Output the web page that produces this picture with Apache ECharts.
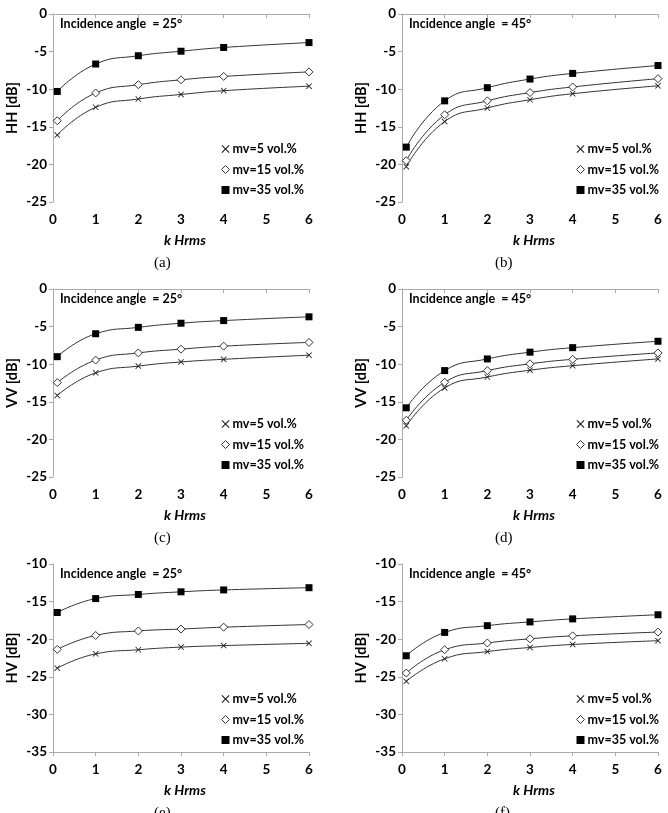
<!DOCTYPE html>
<html>
<head>
<meta charset="utf-8">
<script src="https://cdn.jsdelivr.net/npm/echarts@6/dist/echarts.min.js"></script>
<style>
  html, body { margin: 0; padding: 0; background: #fff; }
  #main { width: 668px; height: 813px; }
</style>
</head>
<body>
<div id="main"></div>
<script>
// k Hrms sample positions
var kHrms = [0.1, 1, 2, 3, 4, 6];
var seriesNames = ["mv=5 vol.%", "mv=15 vol.%", "mv=35 vol.%"];

// (a) HH, 25 deg
var hh25_mv5 = [-16.1, -12.4, -11.3, -10.7, -10.2, -9.6];
var hh25_mv15 = [-14.2, -10.5, -9.4, -8.75, -8.3, -7.7];
var hh25_mv35 = [-10.3, -6.65, -5.55, -4.95, -4.45, -3.8];
// (b) HH, 45 deg
var hh45_mv5 = [-20.3, -14.3, -12.5, -11.4, -10.6, -9.55];
var hh45_mv15 = [-19.5, -13.4, -11.55, -10.45, -9.7, -8.6];
var hh45_mv35 = [-17.7, -11.55, -9.8, -8.65, -7.9, -6.85];
// (c) VV, 25 deg
var vv25_mv5 = [-14.15, -11.15, -10.25, -9.7, -9.35, -8.8];
var vv25_mv15 = [-12.45, -9.45, -8.5, -8.0, -7.6, -7.1];
var vv25_mv35 = [-9.0, -5.95, -5.1, -4.55, -4.2, -3.7];
// (d) VV, 45 deg
var vv45_mv5 = [-18.2, -13.15, -11.7, -10.8, -10.2, -9.3];
var vv45_mv15 = [-17.45, -12.4, -10.85, -9.95, -9.35, -8.5];
var vv45_mv35 = [-15.8, -10.85, -9.3, -8.4, -7.8, -6.95];
// (e) HV, 25 deg
var hv25_mv5 = [-23.85, -21.95, -21.4, -21.05, -20.85, -20.55];
var hv25_mv15 = [-21.35, -19.5, -18.9, -18.65, -18.4, -18.05];
var hv25_mv35 = [-16.45, -14.6, -14.05, -13.7, -13.45, -13.15];
// (f) HV, 45 deg
var hv45_mv5 = [-25.6, -22.6, -21.65, -21.1, -20.7, -20.2];
var hv45_mv15 = [-24.5, -21.4, -20.5, -19.95, -19.55, -19.05];
var hv45_mv35 = [-22.2, -19.1, -18.2, -17.7, -17.3, -16.75];

var xTicks = [0, 6, 1];
var yRangeCo = [-25, 0];
var yRangeHV = [-35, -10];

var panels = [
  { left: 53, top: 14, yName: "HH [dB]", range: yRangeCo, angle: "25", cap: "(a)", data: [hh25_mv5, hh25_mv15, hh25_mv35] },
  { left: 402, top: 14, yName: "HH [dB]", range: yRangeCo, angle: "45", cap: "(b)", data: [hh45_mv5, hh45_mv15, hh45_mv35] },
  { left: 53, top: 289, yName: "VV [dB]", range: yRangeCo, angle: "25", cap: "(c)", data: [vv25_mv5, vv25_mv15, vv25_mv35] },
  { left: 402, top: 289, yName: "VV [dB]", range: yRangeCo, angle: "45", cap: "(d)", data: [vv45_mv5, vv45_mv15, vv45_mv35] },
  { left: 53, top: 564, yName: "HV [dB]", range: yRangeHV, angle: "25", cap: "(e)", data: [hv25_mv5, hv25_mv15, hv25_mv35] },
  { left: 402, top: 564, yName: "HV [dB]", range: yRangeHV, angle: "45", cap: "(f)", data: [hv45_mv5, hv45_mv15, hv45_mv35] }
];

var FONT = "Lato, 'Open Sans', sans-serif";
var crossPath = "path://M0,1 L1,0 L5,4 L9,0 L10,1 L6,5 L10,9 L9,10 L5,6 L1,10 L0,9 L4,5 Z";
var markers = [
  { symbol: crossPath, size: 6, itemStyle: { color: "#222" } },
  { symbol: "diamond", size: 8, itemStyle: { color: "#fff", borderColor: "#333", borderWidth: 1 } },
  { symbol: "rect", size: 7, itemStyle: { color: "#000" } }
];

var grids = [], xAxes = [], yAxes = [], series = [], legends = [], graphics = [];
panels.forEach(function (p, i) {
  grids.push({ left: p.left, top: p.top, width: 256, height: 188 });
  xAxes.push({
    type: "value", gridIndex: i, min: xTicks[0], max: xTicks[1], interval: xTicks[2],
    name: "k Hrms", nameLocation: "middle", nameGap: 31,
    nameTextStyle: { fontFamily: FONT, fontWeight: "bold", fontStyle: "italic", fontSize: 14, color: "#000", padding: [0, 0, 0, 8] },
    axisLine: { lineStyle: { color: "#aaa" } },
    axisTick: { length: 4, lineStyle: { color: "#aaa" } },
    axisLabel: { margin: 11, fontFamily: FONT, fontWeight: "bold", fontSize: 13.5, color: "#000" },
    splitLine: { show: false }
  });
  yAxes.push({
    type: "value", gridIndex: i, min: p.range[0], max: p.range[1], interval: 5,
    name: p.yName, nameLocation: "middle", nameGap: 33,
    nameTextStyle: { fontFamily: FONT, fontWeight: "bold", fontSize: 14.5, color: "#000" },
    axisLine: { show: true, lineStyle: { color: "#aaa" } },
    axisTick: { show: true, length: 4, lineStyle: { color: "#aaa" } },
    axisLabel: { margin: 6, fontFamily: FONT, fontWeight: "bold", fontSize: 13.5, color: "#000" },
    splitLine: { show: false }
  });
  p.data.forEach(function (vals, k) {
    series.push({
      name: seriesNames[k], type: "line", xAxisIndex: i, yAxisIndex: i,
      data: kHrms.map(function (x, j) { return [x, vals[j]]; }),
      smooth: 0.5,
      symbol: markers[k].symbol, symbolSize: markers[k].size,
      itemStyle: markers[k].itemStyle,
      lineStyle: { color: "#333", width: 1 },
      z: 3 + k, animation: false
    });
  });
  var legTop = i < 2 ? 142 : (i < 4 ? 417 : 692);
  legends.push({
    orient: "vertical", left: p.left + (i % 2 ? 174 : 168), top: legTop, padding: 0,
    itemWidth: 8, itemHeight: 8, itemGap: 6.5, selectedMode: false,
    textStyle: { fontFamily: FONT, fontWeight: "bold", fontSize: 12.5, color: "#000", lineHeight: 14, padding: [0, 0, 0, -2] },
    data: seriesNames.map(function (n, k) {
      return { name: n, icon: markers[k].symbol, itemStyle: markers[k].itemStyle };
    })
  });
  graphics.push({
    type: "text", left: p.left + 7, top: p.top + 3,
    style: { text: "Incidence angle  = " + p.angle + "°", font: "bold 12.5px " + FONT, fill: "#000" }
  });
  graphics.push({
    type: "text", left: p.left + (i % 2 ? 93 : 101), top: p.top + 242,
    style: { text: p.cap, font: "15px 'Liberation Serif', serif", fill: "#000" }
  });
});

var myChart = echarts.init(document.getElementById("main"));
myChart.setOption({
  animation: false,
  grid: grids,
  xAxis: xAxes,
  yAxis: yAxes,
  legend: legends,
  graphic: graphics,
  series: series
});
</script>
</body>
</html>
